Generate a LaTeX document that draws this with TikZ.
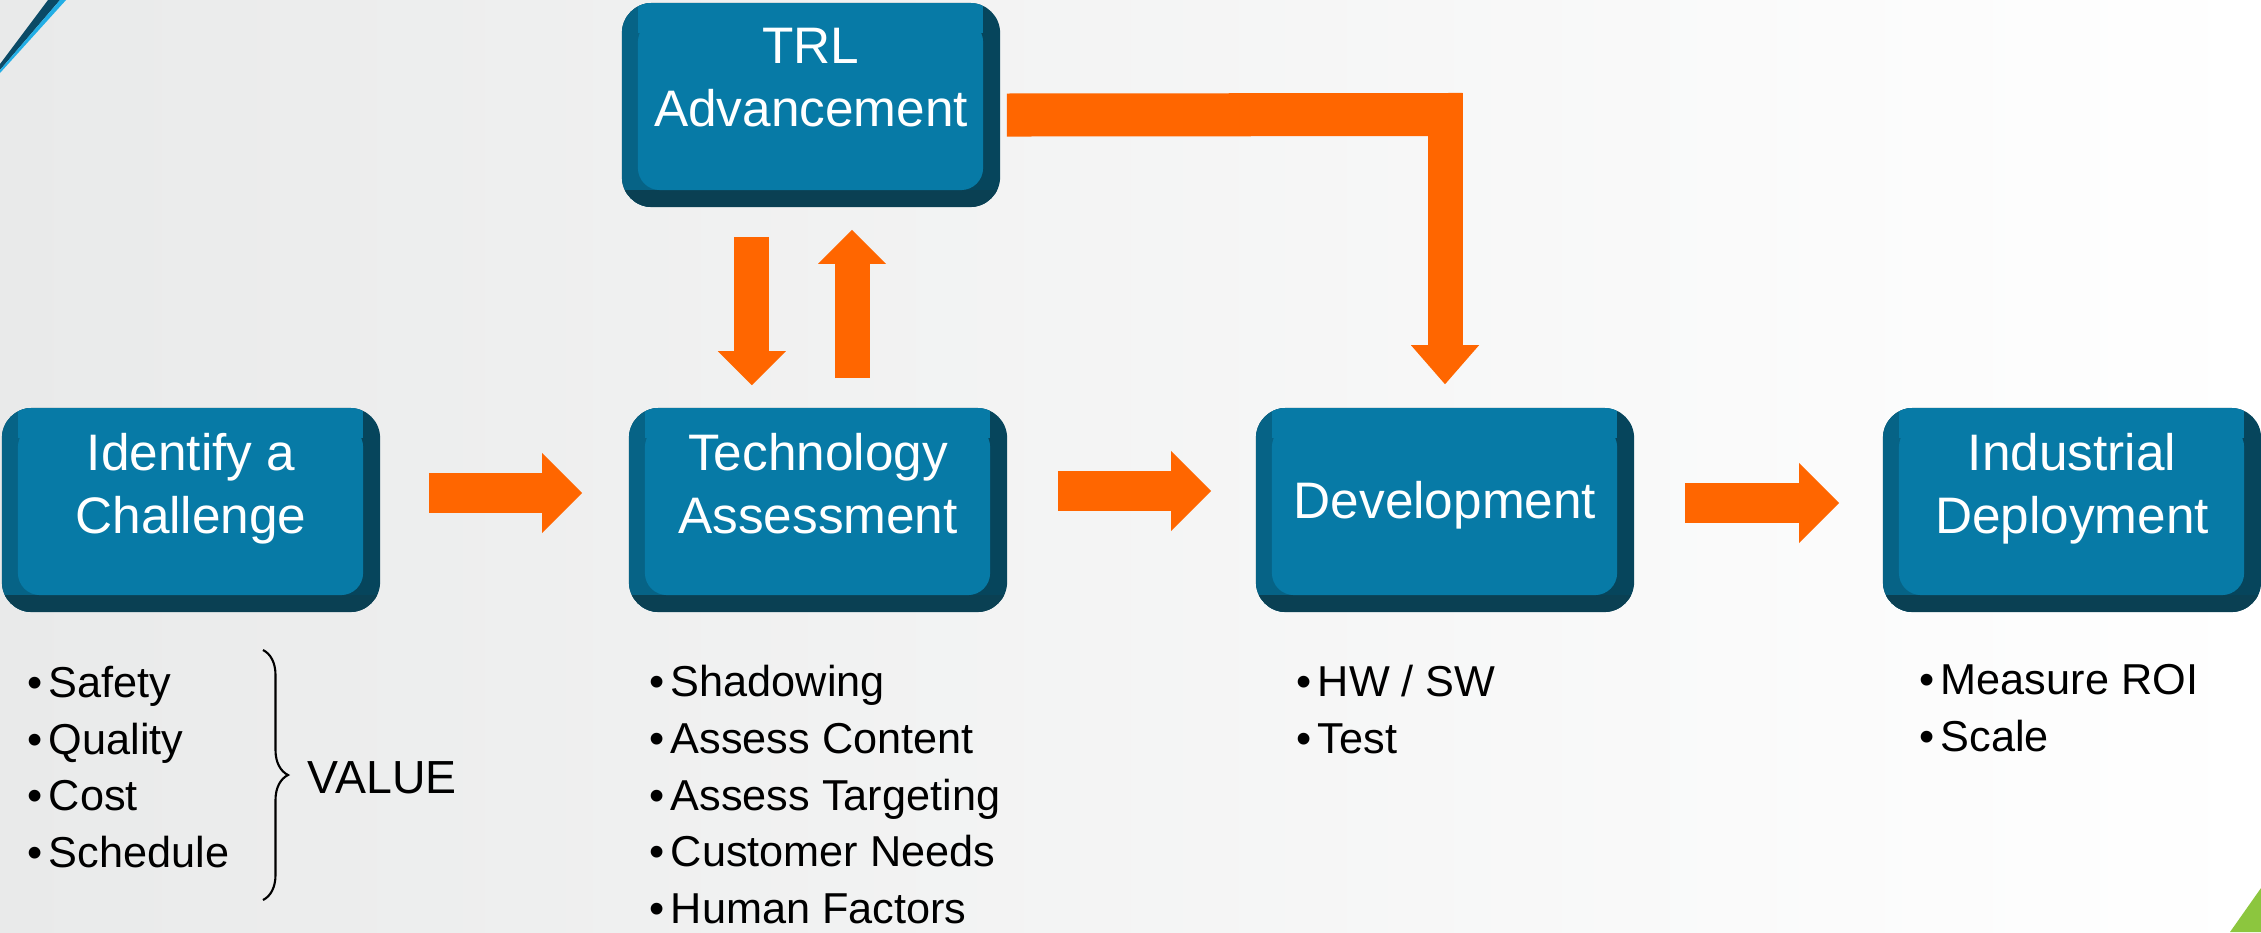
\documentclass[tikz,border=0pt]{standalone}
\usepackage{fontspec}
\setmainfont{Liberation Sans}
\usetikzlibrary{arrows.meta,decorations.pathreplacing}

\definecolor{boxface}{RGB}{7,122,166}
\definecolor{bevelleft}{RGB}{6,99,134}
\definecolor{beveldark}{RGB}{6,69,92}
\definecolor{bevelbottom}{RGB}{10,64,83}
\definecolor{arrorange}{RGB}{255,102,0}
\definecolor{bgleft}{RGB}{233,234,234}
\definecolor{stripedark}{RGB}{11,74,102}
\definecolor{stripecyan}{RGB}{34,174,229}
\definecolor{leafgreen}{RGB}{140,198,62}

\newcommand{\bul}{\textbullet\hspace{0.06cm}}

\tikzset{
  stepbox/.style={rounded corners=0.3cm, fill=beveldark, minimum width=3.78cm, minimum height=2.04cm, inner sep=0pt,
    path picture={
      \fill[bevelleft, sharp corners] (path picture bounding box.south west) rectangle ([xshift=0.4cm]path picture bounding box.north west);
      \fill[bevelbottom, sharp corners] (path picture bounding box.south west) rectangle ([yshift=0.17cm]path picture bounding box.south east);
      \fill[boxface, sharp corners] ([xshift=0.16cm]path picture bounding box.north west) rectangle ([xshift=-0.17cm,yshift=-0.3cm]path picture bounding box.north east);
      \fill[boxface, rounded corners=0.22cm] ([shift={(0.16cm,0.17cm)}]path picture bounding box.south west) rectangle ([shift={(-0.17cm,-0.17cm)}]path picture bounding box.north east);
    }},
  boxtext/.style={anchor=north, inner sep=0pt, text=white, align=center, font=\fontsize{14.6}{17.9}\selectfont},
  itemlist/.style={anchor=north west, inner sep=0pt, align=left, font=\fontsize{12.3}{16.2}\selectfont},
  flowline/.style={draw=arrorange},
  flowarrow/.style={draw=arrorange, line width=0.4cm, -{Triangle[width=0.8cm,length=0.4cm,line width=0pt]}},
  vertarrow/.style={draw=arrorange, line width=0.35cm, -{Triangle[width=0.68cm,length=0.34cm,line width=0pt]}},
  bracket/.style={decorate, decoration={brace,amplitude=0.25cm}, line width=0.6pt}
}

\begin{document}
\begin{tikzpicture}[x=0.01cm,y=-0.01cm]
  \useasboundingbox (0,0) rectangle (2261,932);
  \shade[left color=bgleft, right color=white] (0,0) rectangle (2261,932);

  % corner decorations
  \fill[stripedark] (48,0) -- (60,0) -- (0,70) -- (0,64) -- cycle;
  \fill[stripecyan] (60,0) -- (66,0) -- (0,73) -- (0,70) -- cycle;
  \fill[leafgreen] (2230,932) -- (2261,888) -- (2261,932) -- cycle;

  % boxes
  \node[stepbox] (idc) at (191,510) {};
  \node[stepbox] (trl) at (811,105) {};
  \node[stepbox] (tech) at (818,510) {};
  \node[stepbox] (dev) at (1445,510) {};
  \node[stepbox] (ind) at (2072,510) {};

  \node[boxtext] (idc-txt) at ([yshift=-0.25cm]idc.north) {Identify a\\Challenge};
  \node[boxtext] (trl-txt) at ([yshift=-0.25cm]trl.north) {TRL\\Advancement};
  \node[boxtext] (tech-txt) at ([yshift=-0.25cm]tech.north) {Technology\\Assessment};
  \node[boxtext] (dev-txt) at ([yshift=-0.73cm]dev.north) {Development};
  \node[boxtext] (ind-txt) at ([yshift=-0.25cm]ind.north) {Industrial\\Deployment};

  % lists
  \node[itemlist] (idc-list) at (27,665) {\bul Safety\\\bul Quality\\\bul Cost\\\bul Schedule};
  \node[itemlist] (tech-list) at (649,664) {\bul Shadowing\\\bul Assess Content\\\bul Assess Targeting\\\bul Customer Needs\\\bul Human Factors};
  \node[itemlist] (dev-list) at (1296,664) {\bul HW / SW\\\bul Test};
  \node[itemlist] (ind-list) at (1919,664) {\bul Measure ROI\\\bul Scale};

  \coordinate (brace-top) at (263,650);
  \coordinate (brace-bot) at (263,900);
  \draw[bracket] (brace-top) -- (brace-bot);
  \node[anchor=west, inner sep=0pt, font=\fontsize{13.2}{16}\selectfont] (value) at (307,778) {VALUE};

  % arrows
  \draw[flowarrow, shorten <=0.48cm, shorten >=0.46cm] ([yshift=0.17cm]idc.east) -- ([yshift=0.17cm]tech.west);
  \draw[flowarrow, shorten <=0.5cm, shorten >=0.44cm] ([yshift=0.19cm]tech.east) -- ([yshift=0.19cm]dev.west);
  \draw[flowarrow, shorten <=0.5cm, shorten >=0.43cm] ([yshift=0.07cm]dev.east) -- ([yshift=0.07cm]ind.west);

  \coordinate (dn-top) at ([xshift=-0.59cm]trl.south);
  \coordinate (dn-bot) at (dn-top |- tech.north);
  \coordinate (up-top) at ([xshift=0.41cm]trl.south);
  \coordinate (up-bot) at (up-top |- tech.north);
  \draw[vertarrow, shorten <=0.29cm, shorten >=0.22cm] (dn-top) -- (dn-bot);
  \draw[vertarrow, shorten <=0.29cm, shorten >=0.22cm] (up-bot) -- (up-top);

  \coordinate (bend) at (1445,114.5);
  \draw[flowline, line width=0.43cm, shorten <=0.06cm, shorten >=-0.17cm] ([yshift=-0.1cm]trl.east) -- (bend);
  \draw[vertarrow, -{Triangle[width=0.68cm,length=0.39cm,line width=0pt]}, shorten <=-0.22cm, shorten >=0.23cm] (bend) -- (dev.north);
\end{tikzpicture}
\end{document}
